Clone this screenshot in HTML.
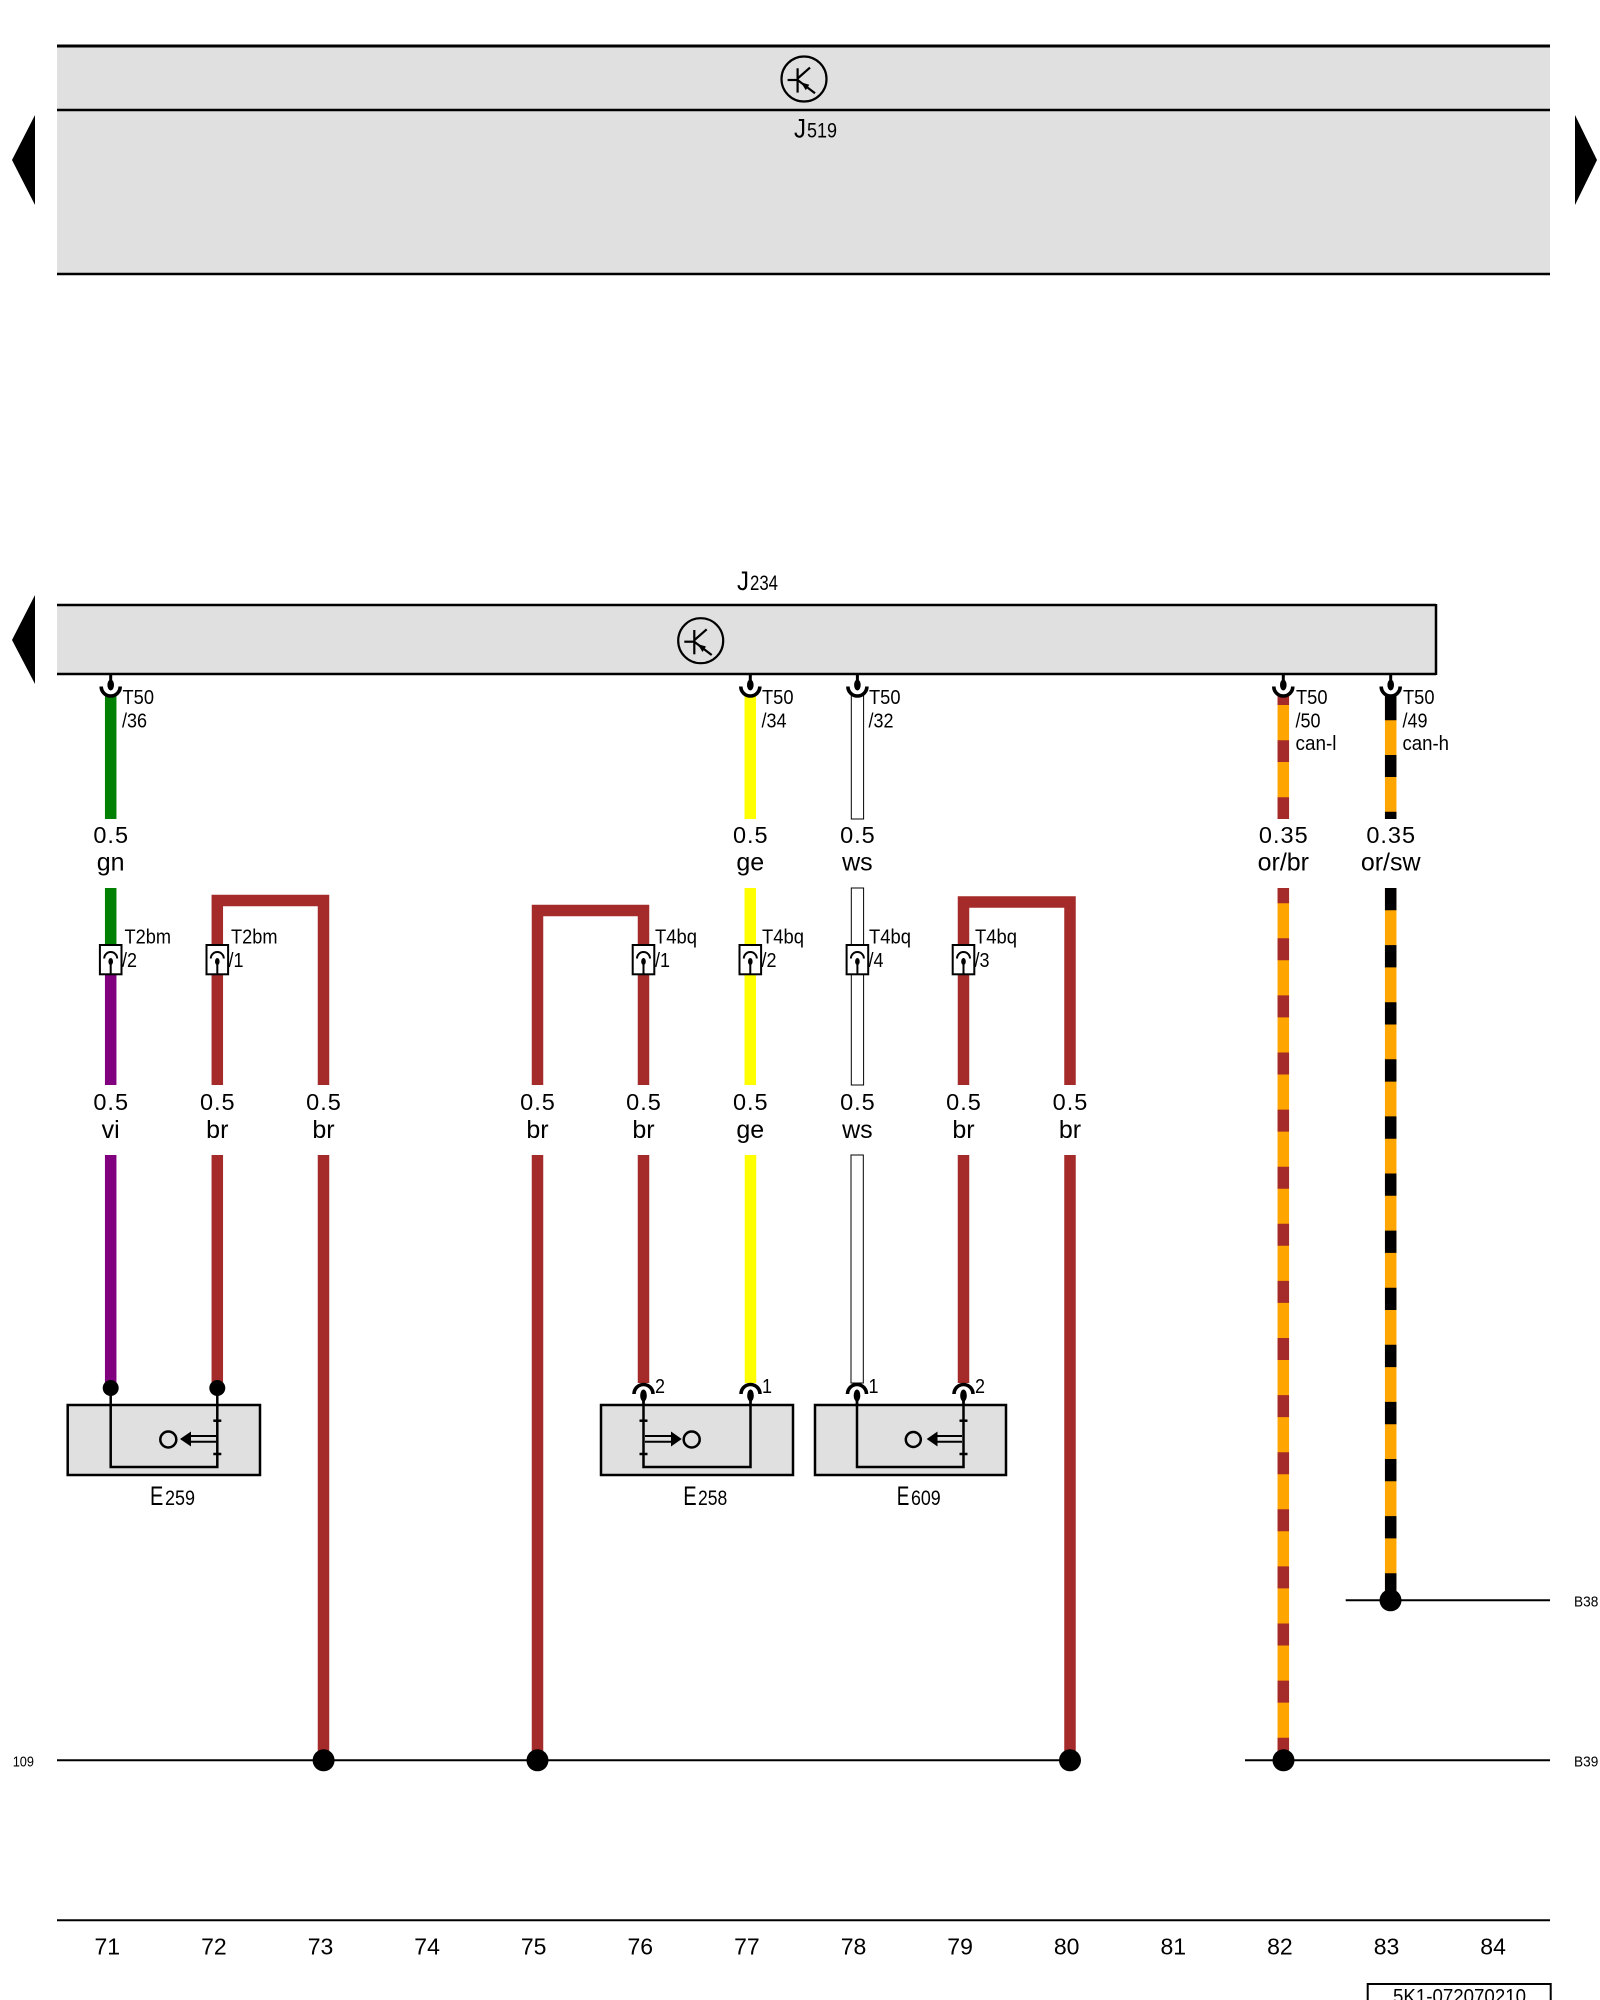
<!DOCTYPE html>
<html><head><meta charset="utf-8"><style>
html,body{margin:0;padding:0;background:#fff;}
svg{display:block;}
text{font-family:"Liberation Sans",Arial,sans-serif;fill:#000;}
</style></head><body>
<svg width="1600" height="2000" viewBox="0 0 1600 2000" xmlns="http://www.w3.org/2000/svg">
<rect x="0" y="0" width="1600" height="2000" fill="#fff"/>

<!-- J519 -->
<rect x="57" y="46" width="1493" height="228" fill="#e0e0e0"/>
<line x1="57" y1="46" x2="1550" y2="46" stroke="#000" stroke-width="3"/>
<line x1="57" y1="110" x2="1550" y2="110" stroke="#000" stroke-width="2.6"/>
<line x1="57" y1="274" x2="1550" y2="274" stroke="#000" stroke-width="2.4"/>
<polygon points="35,115 35,205 12,160" fill="#000"/>
<polygon points="1575,115 1575,205 1597,160" fill="#000"/>
<g transform="translate(804,79)">
  <circle cx="0" cy="0" r="22.5" fill="none" stroke="#000" stroke-width="2.2"/>
  <line x1="-6.4" y1="-10.7" x2="-6.4" y2="13.6" stroke="#000" stroke-width="2.2"/>
  <line x1="-16.4" y1="1" x2="-6.4" y2="1" stroke="#000" stroke-width="2.2"/>
  <line x1="-6.4" y1="-0.5" x2="6" y2="-11.4" stroke="#000" stroke-width="2.2"/>
  <line x1="-6.4" y1="1" x2="11" y2="14.3" stroke="#000" stroke-width="2.2"/>
  <polygon points="-3.2,3.3 1.8,11.3 5.3,5.8" fill="#000"/>
</g>
<text x="794" y="137.5" font-size="27" textLength="12" lengthAdjust="spacingAndGlyphs">J</text>
<text x="807" y="137.5" font-size="21" textLength="30" lengthAdjust="spacingAndGlyphs">519</text>

<!-- J234 -->
<text x="737" y="590" font-size="27" textLength="12" lengthAdjust="spacingAndGlyphs">J</text>
<text x="750" y="590" font-size="21" textLength="28" lengthAdjust="spacingAndGlyphs">234</text>
<rect x="57" y="605" width="1379" height="69" fill="#e0e0e0"/>
<line x1="57" y1="605" x2="1436" y2="605" stroke="#000" stroke-width="2.5"/>
<line x1="57" y1="674" x2="1436" y2="674" stroke="#000" stroke-width="2.5"/>
<line x1="1436" y1="604" x2="1436" y2="675" stroke="#000" stroke-width="2.5"/>
<polygon points="35,595 35,684 12,640" fill="#000"/>
<g transform="translate(700.7,640.7)">
  <circle cx="0" cy="0" r="22.5" fill="none" stroke="#000" stroke-width="2.2"/>
  <line x1="-6.4" y1="-10.7" x2="-6.4" y2="13.6" stroke="#000" stroke-width="2.2"/>
  <line x1="-16.4" y1="1" x2="-6.4" y2="1" stroke="#000" stroke-width="2.2"/>
  <line x1="-6.4" y1="-0.5" x2="6" y2="-11.4" stroke="#000" stroke-width="2.2"/>
  <line x1="-6.4" y1="1" x2="11" y2="14.3" stroke="#000" stroke-width="2.2"/>
  <polygon points="-3.2,3.3 1.8,11.3 5.3,5.8" fill="#000"/>
</g>

<!-- ============ WIRES upper segments (695-819) ============ -->
<g stroke-width="11.5" fill="none" stroke-linecap="butt">
  <line x1="110.7" y1="695" x2="110.7" y2="819" stroke="#008000"/>
  <line x1="750.3" y1="695" x2="750.3" y2="819" stroke="#ffff00"/>
  <line x1="1283.3" y1="695" x2="1283.3" y2="819" stroke="#ffa500"/>
  <line x1="1283.3" y1="695" x2="1283.3" y2="819" stroke="#a52a2a" stroke-dasharray="21.7 35.3" stroke-dashoffset="11.7"/>
  <line x1="1390.7" y1="695" x2="1390.7" y2="819" stroke="#ffa500"/>
  <line x1="1390.7" y1="698.3" x2="1390.7" y2="819" stroke="#000" stroke-dasharray="22 34.7"/>
  <line x1="1390.7" y1="695" x2="1390.7" y2="700" stroke="#000"/>
</g>
<rect x="851.3" y="695" width="12.3" height="124" fill="#fff" stroke="#000" stroke-width="1"/>

<!-- ============ middle segments (888-1085) ============ -->
<g stroke-width="11.5" fill="none" stroke-linecap="butt" stroke-linejoin="miter">
  <line x1="110.7" y1="888" x2="110.7" y2="945" stroke="#008000"/>
  <line x1="110.7" y1="974" x2="110.7" y2="1085" stroke="#800080"/>
  <path d="M217.3,945 V900.5 H323.5 V1085" stroke="#a52a2a"/>
  <line x1="217.3" y1="974" x2="217.3" y2="1085" stroke="#a52a2a"/>
  <path d="M537.5,1085 V910.5 H643.5 V945" stroke="#a52a2a"/>
  <line x1="643.5" y1="974" x2="643.5" y2="1085" stroke="#a52a2a"/>
  <line x1="750.3" y1="888" x2="750.3" y2="1085" stroke="#ffff00"/>
  <path d="M963.5,945 V902 H1070 V1085" stroke="#a52a2a"/>
  <line x1="963.5" y1="974" x2="963.5" y2="1085" stroke="#a52a2a"/>
</g>
<rect x="851.3" y="888" width="12.3" height="197" fill="#fff" stroke="#000" stroke-width="1"/>

<!-- ============ lower segments (1155-...) ============ -->
<g stroke-width="11.5" fill="none" stroke-linecap="butt">
  <line x1="110.7" y1="1155" x2="110.7" y2="1388" stroke="#800080"/>
  <line x1="217.3" y1="1155" x2="217.3" y2="1388" stroke="#a52a2a"/>
  <line x1="323.5" y1="1155" x2="323.5" y2="1760" stroke="#a52a2a"/>
  <line x1="537.5" y1="1155" x2="537.5" y2="1760" stroke="#a52a2a"/>
  <line x1="643.5" y1="1155" x2="643.5" y2="1383" stroke="#a52a2a"/>
  <line x1="750.5" y1="1155" x2="750.5" y2="1383" stroke="#ffff00"/>
  <line x1="963.5" y1="1155" x2="963.5" y2="1383" stroke="#a52a2a"/>
  <line x1="1070" y1="1155" x2="1070" y2="1760" stroke="#a52a2a"/>
  <line x1="1283.3" y1="888" x2="1283.3" y2="1760" stroke="#ffa500"/>
  <line x1="1283.3" y1="888" x2="1283.3" y2="1760" stroke="#a52a2a" stroke-dasharray="22 35.1" stroke-dashoffset="6.8"/>
  <line x1="1390.7" y1="888" x2="1390.7" y2="1600" stroke="#ffa500"/>
  <line x1="1390.7" y1="888" x2="1390.7" y2="1600" stroke="#000" stroke-dasharray="22.3 34.8"/>
</g>
<rect x="851" y="1155" width="12.3" height="228" fill="#fff" stroke="#000" stroke-width="1"/>

<!-- ============ J234 pins ============ -->
<g stroke="#000" fill="none">
  <g transform="translate(110.7,0)">
    <line x1="0" y1="674" x2="0" y2="684" stroke-width="3"/>
    <ellipse cx="0" cy="685" rx="3.3" ry="5.5" fill="#000" stroke="none"/>
    <path d="M-9.5,686.5 A9.5,9.5 0 0 0 9.5,686.5" stroke-width="3.6"/>
  </g>
  <g transform="translate(750.3,0)">
    <line x1="0" y1="674" x2="0" y2="684" stroke-width="3"/>
    <ellipse cx="0" cy="685" rx="3.3" ry="5.5" fill="#000" stroke="none"/>
    <path d="M-9.5,686.5 A9.5,9.5 0 0 0 9.5,686.5" stroke-width="3.6"/>
  </g>
  <g transform="translate(857.4,0)">
    <line x1="0" y1="674" x2="0" y2="684" stroke-width="3"/>
    <ellipse cx="0" cy="685" rx="3.3" ry="5.5" fill="#000" stroke="none"/>
    <path d="M-9.5,686.5 A9.5,9.5 0 0 0 9.5,686.5" stroke-width="3.6"/>
  </g>
  <g transform="translate(1283.3,0)">
    <line x1="0" y1="674" x2="0" y2="684" stroke-width="3"/>
    <ellipse cx="0" cy="685" rx="3.3" ry="5.5" fill="#000" stroke="none"/>
    <path d="M-9.5,686.5 A9.5,9.5 0 0 0 9.5,686.5" stroke-width="3.6"/>
  </g>
  <g transform="translate(1390.7,0)">
    <line x1="0" y1="674" x2="0" y2="684" stroke-width="3"/>
    <ellipse cx="0" cy="685" rx="3.3" ry="5.5" fill="#000" stroke="none"/>
    <path d="M-9.5,686.5 A9.5,9.5 0 0 0 9.5,686.5" stroke-width="3.6"/>
  </g>
</g>

<!-- T50 labels (condensed) -->
<g font-size="20.5">
  <text x="122.5" y="704" textLength="31.5" lengthAdjust="spacingAndGlyphs">T50</text>
  <text x="122" y="727.5" textLength="25" lengthAdjust="spacingAndGlyphs">/36</text>
  <text x="762" y="704" textLength="31.5" lengthAdjust="spacingAndGlyphs">T50</text>
  <text x="761.5" y="727.5" textLength="25" lengthAdjust="spacingAndGlyphs">/34</text>
  <text x="869" y="704" textLength="31.5" lengthAdjust="spacingAndGlyphs">T50</text>
  <text x="868.5" y="727.5" textLength="25" lengthAdjust="spacingAndGlyphs">/32</text>
  <text x="1296" y="704" textLength="31.5" lengthAdjust="spacingAndGlyphs">T50</text>
  <text x="1295.5" y="727.5" textLength="25" lengthAdjust="spacingAndGlyphs">/50</text>
  <text x="1295.5" y="750" textLength="41" lengthAdjust="spacingAndGlyphs">can-l</text>
  <text x="1403" y="704" textLength="31.5" lengthAdjust="spacingAndGlyphs">T50</text>
  <text x="1402.5" y="727.5" textLength="25" lengthAdjust="spacingAndGlyphs">/49</text>
  <text x="1402.5" y="750" textLength="46.5" lengthAdjust="spacingAndGlyphs">can-h</text>
</g>

<!-- wire size / colour labels -->
<g text-anchor="middle">
  <g font-size="23.5" letter-spacing="1">
    <text x="111.2" y="843">0.5</text>
    <text x="750.8" y="843">0.5</text>
    <text x="857.9" y="843">0.5</text>
    <text x="1283.8" y="843">0.35</text>
    <text x="1391.2" y="843">0.35</text>
  </g>
  <g font-size="25">
    <text x="110.7" y="870.5">gn</text>
    <text x="750.3" y="870.5">ge</text>
    <text x="857.4" y="870.5">ws</text>
    <text x="1283.3" y="870.5">or/br</text>
    <text x="1390.7" y="870.5">or/sw</text>
  </g>
  <g font-size="23.5" letter-spacing="1">
    <text x="111.2" y="1110">0.5</text>
    <text x="217.8" y="1110">0.5</text>
    <text x="324" y="1110">0.5</text>
    <text x="538" y="1110">0.5</text>
    <text x="644" y="1110">0.5</text>
    <text x="750.8" y="1110">0.5</text>
    <text x="857.9" y="1110">0.5</text>
    <text x="964" y="1110">0.5</text>
    <text x="1070.5" y="1110">0.5</text>
  </g>
  <g font-size="25">
    <text x="110.7" y="1138">vi</text>
    <text x="217.3" y="1138">br</text>
    <text x="323.5" y="1138">br</text>
    <text x="537.5" y="1138">br</text>
    <text x="643.5" y="1138">br</text>
    <text x="750.3" y="1138">ge</text>
    <text x="857.4" y="1138">ws</text>
    <text x="963.5" y="1138">br</text>
    <text x="1070" y="1138">br</text>
  </g>
</g>

<!-- inline connectors -->
<g stroke="#000" fill="none">
  <g transform="translate(110.7,0)">
    <rect x="-10.8" y="945" width="21.6" height="29.3" fill="#fff" stroke-width="2"/>
    <path d="M-6.5,958.5 A6.5,6.5 0 0 1 6.5,958.5" stroke-width="2"/>
    <ellipse cx="0" cy="961.5" rx="2.3" ry="3.5" fill="#000" stroke="none"/>
    <line x1="0" y1="961" x2="0" y2="974" stroke-width="2"/>
  </g>
  <g transform="translate(217.3,0)">
    <rect x="-10.8" y="945" width="21.6" height="29.3" fill="#fff" stroke-width="2"/>
    <path d="M-6.5,958.5 A6.5,6.5 0 0 1 6.5,958.5" stroke-width="2"/>
    <ellipse cx="0" cy="961.5" rx="2.3" ry="3.5" fill="#000" stroke="none"/>
    <line x1="0" y1="961" x2="0" y2="974" stroke-width="2"/>
  </g>
  <g transform="translate(643.5,0)">
    <rect x="-10.8" y="945" width="21.6" height="29.3" fill="#fff" stroke-width="2"/>
    <path d="M-6.5,958.5 A6.5,6.5 0 0 1 6.5,958.5" stroke-width="2"/>
    <ellipse cx="0" cy="961.5" rx="2.3" ry="3.5" fill="#000" stroke="none"/>
    <line x1="0" y1="961" x2="0" y2="974" stroke-width="2"/>
  </g>
  <g transform="translate(750.3,0)">
    <rect x="-10.8" y="945" width="21.6" height="29.3" fill="#fff" stroke-width="2"/>
    <path d="M-6.5,958.5 A6.5,6.5 0 0 1 6.5,958.5" stroke-width="2"/>
    <ellipse cx="0" cy="961.5" rx="2.3" ry="3.5" fill="#000" stroke="none"/>
    <line x1="0" y1="961" x2="0" y2="974" stroke-width="2"/>
  </g>
  <g transform="translate(857.4,0)">
    <rect x="-10.8" y="945" width="21.6" height="29.3" fill="#fff" stroke-width="2"/>
    <path d="M-6.5,958.5 A6.5,6.5 0 0 1 6.5,958.5" stroke-width="2"/>
    <ellipse cx="0" cy="961.5" rx="2.3" ry="3.5" fill="#000" stroke="none"/>
    <line x1="0" y1="961" x2="0" y2="974" stroke-width="2"/>
  </g>
  <g transform="translate(963.5,0)">
    <rect x="-10.8" y="945" width="21.6" height="29.3" fill="#fff" stroke-width="2"/>
    <path d="M-6.5,958.5 A6.5,6.5 0 0 1 6.5,958.5" stroke-width="2"/>
    <ellipse cx="0" cy="961.5" rx="2.3" ry="3.5" fill="#000" stroke="none"/>
    <line x1="0" y1="961" x2="0" y2="974" stroke-width="2"/>
  </g>
</g>
<g font-size="20.5">
  <text x="124.5" y="943.5" textLength="46.5" lengthAdjust="spacingAndGlyphs">T2bm</text>
  <text x="122" y="967" textLength="15" lengthAdjust="spacingAndGlyphs">/2</text>
  <text x="231" y="943.5" textLength="46.5" lengthAdjust="spacingAndGlyphs">T2bm</text>
  <text x="228.5" y="967" textLength="15" lengthAdjust="spacingAndGlyphs">/1</text>
  <text x="655" y="943.5" textLength="42" lengthAdjust="spacingAndGlyphs">T4bq</text>
  <text x="655" y="967" textLength="15" lengthAdjust="spacingAndGlyphs">/1</text>
  <text x="762" y="943.5" textLength="42" lengthAdjust="spacingAndGlyphs">T4bq</text>
  <text x="761.5" y="967" textLength="15" lengthAdjust="spacingAndGlyphs">/2</text>
  <text x="869" y="943.5" textLength="42" lengthAdjust="spacingAndGlyphs">T4bq</text>
  <text x="868.5" y="967" textLength="15" lengthAdjust="spacingAndGlyphs">/4</text>
  <text x="975" y="943.5" textLength="42" lengthAdjust="spacingAndGlyphs">T4bq</text>
  <text x="974.5" y="967" textLength="15" lengthAdjust="spacingAndGlyphs">/3</text>
</g>

<!-- ============ E259 ============ -->
<rect x="67.7" y="1405" width="192.3" height="70" fill="#e0e0e0" stroke="#000" stroke-width="2.5"/>
<g stroke="#000" stroke-width="2.5" fill="none">
  <path d="M110.7,1388 V1467 H217.3 V1388"/>
  <line x1="213.3" y1="1420.7" x2="221.3" y2="1420.7"/>
  <line x1="213.3" y1="1454" x2="221.3" y2="1454"/>
  <line x1="190" y1="1436" x2="216" y2="1436" stroke-width="2"/>
  <line x1="190" y1="1441.7" x2="216" y2="1441.7" stroke-width="2"/>
  <circle cx="168.3" cy="1439.5" r="8" />
</g>
<polygon points="180,1439 191,1431.5 191,1446.5" fill="#000"/>
<circle cx="110.7" cy="1388" r="8" fill="#000"/>
<circle cx="217.3" cy="1388" r="8" fill="#000"/>
<text x="150" y="1505" font-size="27" textLength="13.3" lengthAdjust="spacingAndGlyphs">E</text>
<text x="165" y="1505" font-size="21" textLength="30" lengthAdjust="spacingAndGlyphs">259</text>

<!-- ============ E258 ============ -->
<rect x="601" y="1405" width="192" height="70" fill="#e0e0e0" stroke="#000" stroke-width="2.5"/>
<g stroke="#000" stroke-width="2.5" fill="none">
  <path d="M643.5,1400 V1467 H750.5 V1400"/>
  <line x1="639.5" y1="1420.7" x2="647.5" y2="1420.7"/>
  <line x1="639.5" y1="1454" x2="647.5" y2="1454"/>
  <line x1="645" y1="1436" x2="672" y2="1436" stroke-width="2"/>
  <line x1="645" y1="1441.7" x2="672" y2="1441.7" stroke-width="2"/>
  <circle cx="691.7" cy="1439.5" r="8"/>
</g>
<polygon points="681.7,1439 671,1431.5 671,1446.5" fill="#000"/>
<text x="683.3" y="1505" font-size="27" textLength="13.4" lengthAdjust="spacingAndGlyphs">E</text>
<text x="698" y="1505" font-size="21" textLength="29.3" lengthAdjust="spacingAndGlyphs">258</text>

<!-- ============ E609 ============ -->
<rect x="815" y="1405" width="191" height="70" fill="#e0e0e0" stroke="#000" stroke-width="2.5"/>
<g stroke="#000" stroke-width="2.5" fill="none">
  <path d="M857,1400 V1467 H963.5 V1400"/>
  <line x1="959.5" y1="1420.7" x2="967.5" y2="1420.7"/>
  <line x1="959.5" y1="1454" x2="967.5" y2="1454"/>
  <line x1="937" y1="1436" x2="962" y2="1436" stroke-width="2"/>
  <line x1="937" y1="1441.7" x2="962" y2="1441.7" stroke-width="2"/>
  <circle cx="913.3" cy="1439.5" r="7.5"/>
</g>
<polygon points="926.7,1439 937.5,1431.5 937.5,1446.5" fill="#000"/>
<text x="896.7" y="1505" font-size="27" textLength="12.6" lengthAdjust="spacingAndGlyphs">E</text>
<text x="911" y="1505" font-size="21" textLength="29.7" lengthAdjust="spacingAndGlyphs">609</text>

<!-- E pins -->
<g stroke="#000" fill="none">
  <g transform="translate(643.5,0)">
    <path d="M-9.5,1394 A9.5,9.5 0 0 1 9.5,1394" stroke-width="3.6"/>
    <ellipse cx="0" cy="1395.5" rx="3.3" ry="6" fill="#000" stroke="none"/>
    <line x1="0" y1="1396" x2="0" y2="1405" stroke-width="2.5"/>
  </g>
  <g transform="translate(750.5,0)">
    <path d="M-9.5,1394 A9.5,9.5 0 0 1 9.5,1394" stroke-width="3.6"/>
    <ellipse cx="0" cy="1395.5" rx="3.3" ry="6" fill="#000" stroke="none"/>
    <line x1="0" y1="1396" x2="0" y2="1405" stroke-width="2.5"/>
  </g>
  <g transform="translate(857,0)">
    <path d="M-9.5,1394 A9.5,9.5 0 0 1 9.5,1394" stroke-width="3.6"/>
    <ellipse cx="0" cy="1395.5" rx="3.3" ry="6" fill="#000" stroke="none"/>
    <line x1="0" y1="1396" x2="0" y2="1405" stroke-width="2.5"/>
  </g>
  <g transform="translate(963.5,0)">
    <path d="M-9.5,1394 A9.5,9.5 0 0 1 9.5,1394" stroke-width="3.6"/>
    <ellipse cx="0" cy="1395.5" rx="3.3" ry="6" fill="#000" stroke="none"/>
    <line x1="0" y1="1396" x2="0" y2="1405" stroke-width="2.5"/>
  </g>
</g>
<g font-size="20">
  <text x="655" y="1393" textLength="10" lengthAdjust="spacingAndGlyphs">2</text>
  <text x="762" y="1393" textLength="10" lengthAdjust="spacingAndGlyphs">1</text>
  <text x="868.5" y="1393" textLength="10" lengthAdjust="spacingAndGlyphs">1</text>
  <text x="975" y="1393" textLength="10" lengthAdjust="spacingAndGlyphs">2</text>
</g>

<!-- ============ bus lines ============ -->
<g stroke="#000" stroke-width="2">
  <line x1="57" y1="1760.3" x2="1070" y2="1760.3"/>
  <line x1="1245" y1="1760.3" x2="1550" y2="1760.3"/>
  <line x1="1345.7" y1="1600.3" x2="1550" y2="1600.3"/>
  <line x1="57" y1="1920.3" x2="1550" y2="1920.3"/>
</g>
<g fill="#000">
  <circle cx="323.6" cy="1760.3" r="11"/>
  <circle cx="537.5" cy="1760.3" r="11"/>
  <circle cx="1070" cy="1760.3" r="11"/>
  <circle cx="1283.5" cy="1760.3" r="11"/>
  <circle cx="1390.5" cy="1600.3" r="11"/>
</g>
<text x="12.7" y="1766.5" font-size="15" textLength="21.3" lengthAdjust="spacingAndGlyphs">109</text>
<text x="1574" y="1606.5" font-size="15" textLength="24.3" lengthAdjust="spacingAndGlyphs">B38</text>
<text x="1574" y="1766.5" font-size="15" textLength="24.3" lengthAdjust="spacingAndGlyphs">B39</text>

<!-- column numbers -->
<g font-size="23" text-anchor="middle">
  <text x="107.3" y="1954.5">71</text>
  <text x="213.9" y="1954.5">72</text>
  <text x="320.5" y="1954.5">73</text>
  <text x="427.1" y="1954.5">74</text>
  <text x="533.7" y="1954.5">75</text>
  <text x="640.3" y="1954.5">76</text>
  <text x="746.9" y="1954.5">77</text>
  <text x="853.5" y="1954.5">78</text>
  <text x="960.1" y="1954.5">79</text>
  <text x="1066.7" y="1954.5">80</text>
  <text x="1173.3" y="1954.5">81</text>
  <text x="1279.9" y="1954.5">82</text>
  <text x="1386.5" y="1954.5">83</text>
  <text x="1493.1" y="1954.5">84</text>
</g>

<!-- stamp -->
<rect x="1367.7" y="1984" width="183" height="30" fill="#fff" stroke="#000" stroke-width="2"/>
<text x="1459.5" y="2003" font-size="20" text-anchor="middle" textLength="133" lengthAdjust="spacingAndGlyphs">5K1-072070210</text>
</svg>
</body></html>
